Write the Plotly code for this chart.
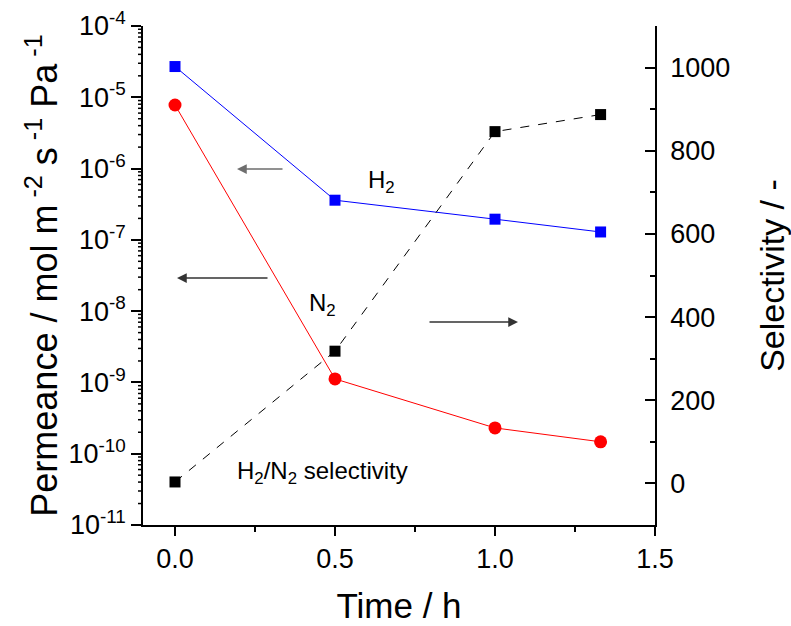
import plotly.graph_objects as go

time_h = [0.0, 0.5, 1.0, 1.33]
h2_perm = [2.7e-5, 3.6e-7, 1.95e-7, 1.29e-7]
n2_perm = [7.8e-6, 1.12e-9, 2.3e-10, 1.47e-10]
selectivity = [3.5, 318, 846, 887]

x_ticks = [0.0, 0.5, 1.0, 1.5]
x_ticktext = ["0.0", "0.5", "1.0", "1.5"]
x_minor = [0.25, 0.75, 1.25]
perm_tickvals = [1e-11, 1e-10, 1e-9, 1e-8, 1e-7, 1e-6, 1e-5, 1e-4]
perm_ticktext = ["10<sup>-11</sup>", "10<sup>-10</sup>", "10<sup>-9</sup>", "10<sup>-8</sup>",
                 "10<sup>-7</sup>", "10<sup>-6</sup>", "10<sup>-5</sup>", "10<sup>-4</sup>"]
perm_minor = [k * 10.0 ** e for e in range(-11, -4) for k in range(2, 10)]
sel_ticks = [0, 200, 400, 600, 800, 1000]
sel_minor = [-100, 100, 300, 500, 700, 900, 1100]

FONT = "Liberation Sans, Arial, sans-serif"

fig = go.Figure()
fig.add_trace(go.Scatter(x=time_h, y=h2_perm, mode="lines+markers",
                         line=dict(color="#0000FF", width=1),
                         marker=dict(symbol="square", size=11, color="#0000FF"),
                         showlegend=False, xaxis="x", yaxis="y"))
fig.add_trace(go.Scatter(x=time_h, y=n2_perm, mode="lines+markers",
                         line=dict(color="#FF0000", width=1),
                         marker=dict(symbol="circle", size=13, color="#FF0000"),
                         showlegend=False, xaxis="x", yaxis="y"))
fig.add_trace(go.Scatter(x=time_h, y=selectivity, mode="lines+markers",
                         line=dict(color="#000000", width=1, dash="dash"),
                         marker=dict(symbol="square", size=11, color="#000000"),
                         showlegend=False, xaxis="x", yaxis="y2"))

L, R, T, B = 143, 136, 26, 101
W, H = 791, 626
pw, ph = W - L - R, H - T - B

def px(x):
    return (x - L) / pw

def py(y):
    return (H - B - y) / ph

annotations = [
    dict(text="H<sub>2</sub>", x=px(381), y=py(181)),
    dict(text="N<sub>2</sub>", x=px(322), y=py(304)),
    dict(text="H<sub>2</sub>/N<sub>2</sub> selectivity", x=px(322), y=py(472)),
]
annots = []
for a in annotations:
    annots.append(dict(text=a["text"], x=a["x"], y=a["y"], xref="paper", yref="paper",
                       showarrow=False, font=dict(family=FONT, size=24, color="#000"),
                       xanchor="center", yanchor="middle"))

arrows = [
    (237, 284, 169, "#6e6e6e"),
    (177, 269, 278, "#333333"),
    (518, 428, 322, "#333333"),
]
for head, tail, yy, col in arrows:
    annots.append(dict(x=px(head), y=py(yy), xref="paper", yref="paper",
                       ax=tail - head, ay=0, axref="pixel", ayref="pixel",
                       showarrow=True, arrowhead=2, arrowsize=1.3, arrowwidth=1.5,
                       arrowcolor=col, text=""))

# minor ticks of the log axis, drawn as short outward segments at the tick values
shapes = []
for v in perm_minor:
    shapes.append(dict(type="line", xref="paper", yref="y", xsizemode="pixel", xanchor=0,
                       x0=-5, x1=0, y0=v, y1=v, layer="above",
                       line=dict(color="#000", width=1.5)))

fig.update_layout(
    width=W, height=H,
    margin=dict(l=L, r=R, t=T, b=B, pad=0, autoexpand=False),
    paper_bgcolor="white", plot_bgcolor="white",
    font=dict(family=FONT, size=27, color="#000"),
    annotations=annots,
    shapes=shapes,
    xaxis=dict(range=[-0.1, 1.5], tickvals=x_ticks, ticktext=x_ticktext, automargin=True,
               showgrid=False, zeroline=False, showline=True, linecolor="#000", linewidth=1.5,
               ticks="outside", ticklen=9, tickwidth=1.5, tickcolor="#000",
               minor=dict(ticks="outside", ticklen=5, tickwidth=1.5, tickvals=x_minor,
                          tickcolor="#000", showgrid=False),
               title=dict(text="Time / h", font=dict(size=35), standoff=20),
               tickfont=dict(size=27)),
    xaxis2=dict(range=[-0.1, 1.5], overlaying="x", side="top", matches="x", automargin=False,
                tickvals=x_ticks, showticklabels=False, showgrid=False, zeroline=False,
                showline=True, linecolor="#000", linewidth=1.5,
                ticks="inside", ticklen=6, tickwidth=1.5, tickcolor="#000"),
    yaxis=dict(type="log", range=[-11, -4], tickvals=perm_tickvals, ticktext=perm_ticktext,
               automargin=True,
               showgrid=False, zeroline=False, showline=True, linecolor="#000", linewidth=1.5,
               ticks="outside", ticklen=10, tickwidth=1.5, tickcolor="#000",
               title=dict(text="Permeance / mol m<sup> -2</sup> s<sup> -1</sup> Pa<sup> -1</sup>",
                          font=dict(size=36), standoff=0),
               tickfont=dict(size=27)),
    yaxis2=dict(range=[-100, 1100], overlaying="y", side="right", tickvals=sel_ticks,
                automargin=True,
                showgrid=False, zeroline=False, showline=True, linecolor="#000", linewidth=1.5,
                ticks="inside", ticklen=10, tickwidth=1.5, tickcolor="#000",
                minor=dict(ticks="inside", ticklen=5, tickwidth=1.5, tickvals=sel_minor,
                           tickcolor="#000", showgrid=False),
                ticklabelstandoff=8,
                title=dict(text="Selectivity / -", font=dict(size=34), standoff=34),
                tickfont=dict(size=27)),
)

fig.write_html("out.html")
